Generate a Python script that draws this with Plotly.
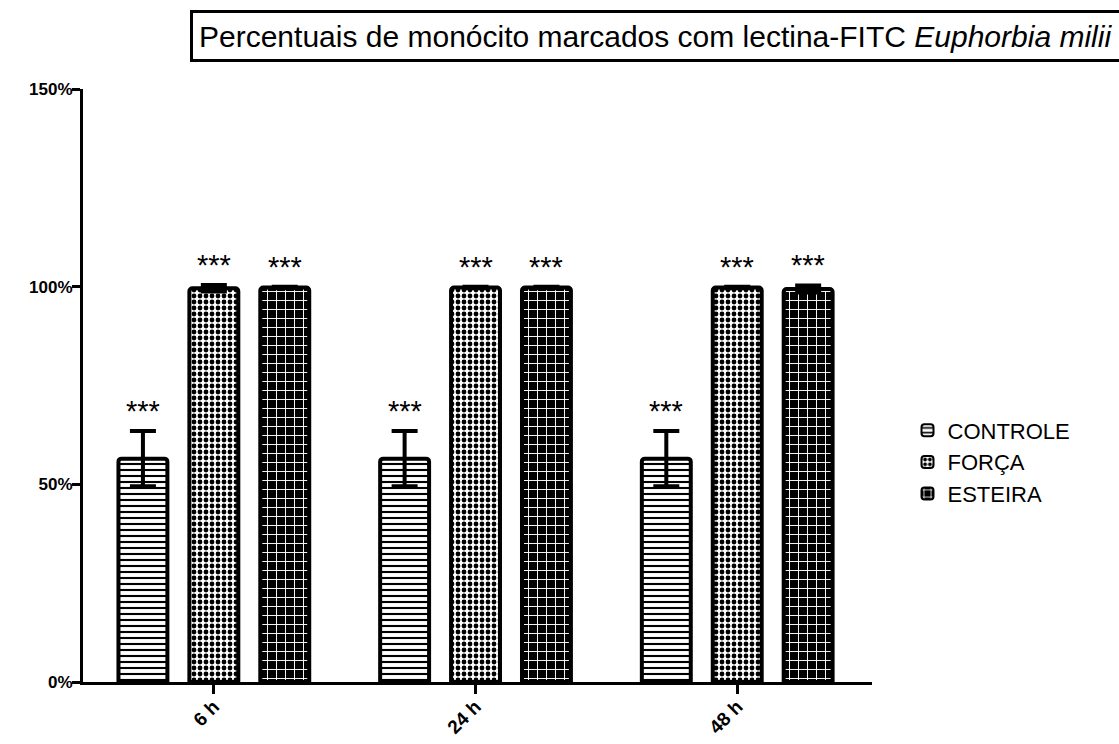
import plotly.graph_objects as go

categories = ["6 h", "24 h", "48 h"]
series_names = ["CONTROLE", "FORÇA", "ESTEIRA"]
controle = [56.5, 56.5, 56.5]
controle_err = [7.0, 7.0, 7.0]
forca = [99.6, 99.8, 99.8]
forca_err = [0.8, 0.2, 0.2]
esteira = [99.8, 99.8, 99.4]
esteira_err = [0.2, 0.2, 0.9]
yticks = [0, 50, 100, 150]
title_text = "Percentuais de monócito marcados com lectina-FITC <i>Euphorbia milii</i>"
star_text = "***"

FONT = "Liberation Sans, Arial"

patterns = [
    dict(shape="-", fgcolor="black", bgcolor="white", size=6, solidity=0.35, fillmode="replace"),
    dict(shape=".", fgcolor="black", bgcolor="white", size=6, solidity=0.5, fillmode="replace"),
    dict(shape="+", fgcolor="white", bgcolor="black", size=9, solidity=0.2, fillmode="replace"),
]
values = [controle, forca, esteira]
errors = [controle_err, forca_err, esteira_err]

fig = go.Figure()
for name, vals, errs, pat in zip(series_names, values, errors, patterns):
    fig.add_trace(go.Bar(
        x=categories, y=vals, name=name,
        marker=dict(color="white", pattern=pat, line=dict(color="black", width=4)),
        error_y=dict(type="data", array=errs, visible=True, color="black", thickness=4, width=13),
    ))

# asterisk annotations above each bar
offsets = [-1, 0, 1]
pitch = 0.271
for si, (vals, errs) in enumerate(zip(values, errors)):
    for ci, (v, e) in enumerate(zip(vals, errs)):
        fig.add_annotation(
            x=ci + offsets[si] * pitch, y=v + e, xref="x", yref="y",
            text=star_text, showarrow=False, yanchor="bottom", yshift=2,
            font=dict(family=FONT, size=29, color="black"),
        )

fig.add_annotation(
    x=(190 - 83) / 789, y=1 + 53 / 593, xref="paper", yref="paper",
    xanchor="left", yanchor="middle", text=title_text, showarrow=False,
    font=dict(family=FONT, size=30, color="black"),
    width=1119 - 190 - 15, height=34,
    bordercolor="black", borderwidth=3, borderpad=6, bgcolor="white", align="left",
)

fig.update_layout(
    width=1119, height=744,
    margin=dict(l=83, r=247, t=89, b=62, autoexpand=False),
    paper_bgcolor="white", plot_bgcolor="white",
    barmode="group", bargap=0.187, bargroupgap=0.31, barcornerradius=3,
    font=dict(family=FONT, color="black"),
    showlegend=True,
    legend=dict(x=1.045, y=0.371, xanchor="left", yanchor="middle",
                font=dict(size=22, family=FONT),
                itemsizing="constant", tracegroupgap=0),
    xaxis=dict(
        range=[-0.5, 2.515], showline=True, linecolor="black", linewidth=3,
        ticks="outside", ticklen=9, tickwidth=3, tickcolor="black",
        tickangle=-45, tickfont=dict(size=19, family=FONT, weight="bold"),
        ticklabelstandoff=-6,
        showgrid=False, zeroline=False, automargin=False,
    ),
    yaxis=dict(
        range=[0, 150], tickvals=yticks, ticktext=[f"{t}%" for t in yticks],
        showline=True, linecolor="black", linewidth=3,
        ticks="outside", ticklen=8, tickwidth=3, tickcolor="black",
        tickfont=dict(size=17, family=FONT, weight="bold"), ticklabelstandoff=-4,
        showgrid=False, zeroline=False, automargin=False,
    ),
)

fig.write_html("out.html")
